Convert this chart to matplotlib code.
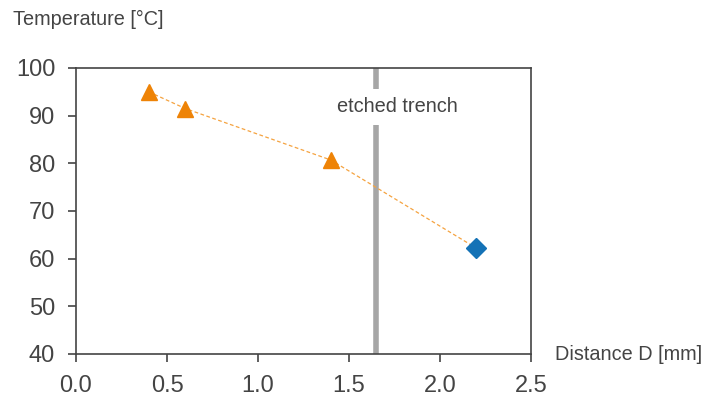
import matplotlib.pyplot as plt

# measured points (triangles) and the one beyond the trench (diamond)
dist_tri = [0.4, 0.6, 1.4]
temp_tri = [95.0, 91.5, 80.7]
dist_dia = [2.2]
temp_dia = [62.2]
trench_x = 1.65

plt.rcParams['font.family'] = ['Liberation Sans', 'DejaVu Sans']
txt = '#444444'

fig = plt.figure(figsize=(7.18, 3.98), dpi=100)
ax = fig.add_axes([76/718, 1 - 354/398, (531-76)/718, (354-68)/398])

ax.plot(dist_tri + dist_dia, temp_tri + temp_dia, ls='--', color='#f5a340',
        lw=0.9, dashes=(3, 2), zorder=2)
ax.plot(dist_tri, temp_tri, ls='none', marker='^', ms=12, color='#ee8306', zorder=3)
ax.plot(dist_dia, temp_dia, ls='none', marker='D', ms=10, color='#1472b6', zorder=3)

ax.axvline(trench_x, color='#a6a6a6', lw=4, zorder=1)
ax.text(1.766, 91.9, 'etched trench', ha='center', va='center', fontsize=14.4,
        color=txt, zorder=4,
        bbox=dict(facecolor='white', edgecolor='none', pad=6))

ax.set_xlim(0, 2.5)
ax.set_ylim(40, 100)
ax.set_xticks([0.0, 0.5, 1.0, 1.5, 2.0, 2.5])
ax.set_xticklabels(['0.0', '0.5', '1.0', '1.5', '2.0', '2.5'])
ax.set_yticks(range(40, 101, 10))
ax.tick_params(labelsize=17, colors=txt, length=6, width=1.2, direction='out')
ax.tick_params(axis='y', pad=9)
ax.tick_params(axis='x', pad=9)
for s in ax.spines.values():
    s.set_color(txt)
    s.set_linewidth(1.2)

fig.text(13/718, 1 - 19/398, 'Temperature [°C]', fontsize=14.3, color=txt, va='center')
fig.text(555/718, 1 - 355/398, 'Distance D [mm]', fontsize=14.3, color=txt, va='center')

fig.savefig('out.png', dpi=100)
